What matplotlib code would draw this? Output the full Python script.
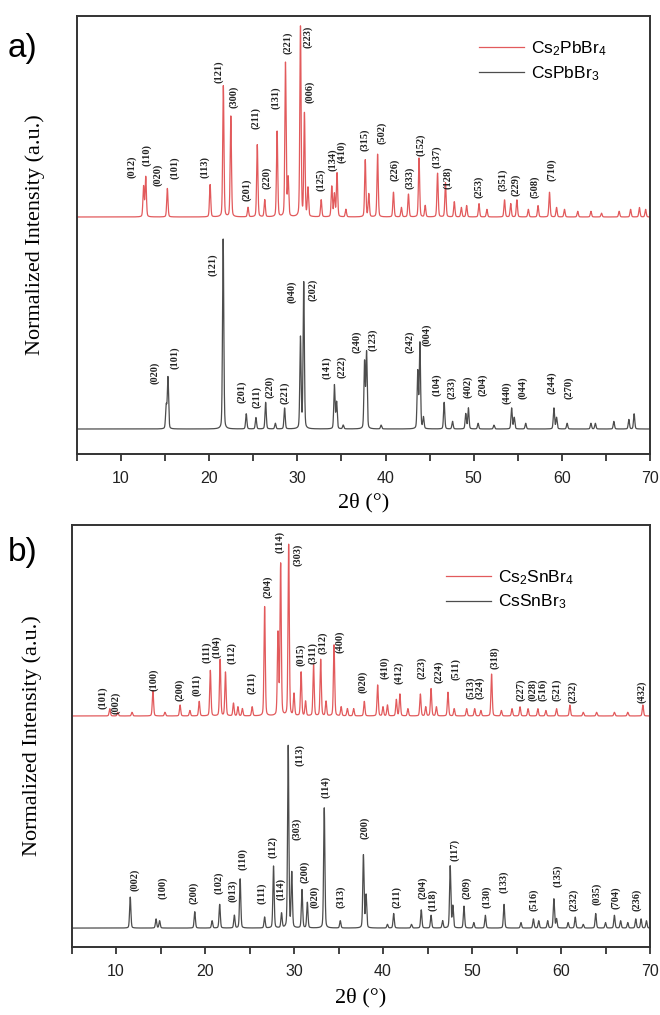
import numpy as np
import matplotlib.pyplot as plt

plt.rcParams['font.family'] = 'Liberation Sans'
plt.rcParams['mathtext.default'] = 'regular'

serif = {'family': 'Liberation Serif'}

red = '#e25a5c'
dark = '#4d4d4d'

# ---- a) Cs2PbBr4 (red) : peak 2theta / relative intensity
pb4_pos = [12.55, 12.8, 15.25, 20.1, 21.6, 22.45, 24.4, 25.45, 26.3, 27.7, 28.65, 28.95,
           30.35, 30.8, 31.2, 32.7, 33.9, 34.2, 34.5, 35.5, 37.7, 38.1, 39.1, 40.9, 41.8,
           42.6, 43.8, 44.5, 45.9, 46.8, 47.8, 48.6, 49.2, 50.6, 51.5, 53.5, 54.2, 54.9,
           56.2, 57.3, 58.6, 59.4, 60.3, 61.8, 63.3, 64.5, 66.5, 67.8, 68.8, 69.5]
pb4_int = [0.16, 0.21, 0.15, 0.17, 0.69, 0.53, 0.05, 0.38, 0.09, 0.45, 0.81, 0.20,
           1.00, 0.54, 0.15, 0.09, 0.16, 0.12, 0.23, 0.04, 0.30, 0.12, 0.33, 0.13, 0.05,
           0.12, 0.31, 0.06, 0.23, 0.18, 0.08, 0.05, 0.06, 0.07, 0.04, 0.09, 0.07, 0.09,
           0.04, 0.06, 0.13, 0.05, 0.04, 0.03, 0.03, 0.02, 0.03, 0.04, 0.05, 0.04]

# ---- a) CsPbBr3 (dark)
pb3_pos = [15.12, 15.32, 21.58, 24.2, 25.3, 26.4, 27.5, 28.55, 30.35, 30.72, 34.2, 34.45,
           35.2, 37.62, 37.85, 39.5, 43.65, 43.9, 44.3, 46.65, 47.6, 49.1, 49.4, 50.5, 52.3,
           54.3, 54.6, 55.9, 59.1, 59.4, 60.6, 63.3, 63.8, 65.9, 67.6, 68.2]
pb3_int = [0.12, 0.27, 1.00, 0.08, 0.06, 0.14, 0.03, 0.11, 0.48, 0.77, 0.23, 0.14,
           0.02, 0.35, 0.40, 0.02, 0.30, 0.45, 0.06, 0.14, 0.04, 0.08, 0.11, 0.03, 0.02,
           0.11, 0.06, 0.03, 0.11, 0.06, 0.03, 0.03, 0.03, 0.04, 0.05, 0.08]

# ---- b) Cs2SnBr4 (red)
sn4_pos = [9.3, 10.2, 11.8, 14.15, 15.5, 17.2, 18.3, 19.35, 20.6, 21.7, 22.3, 23.2, 23.7,
           24.2, 25.3, 26.7, 28.2, 28.5, 29.4, 30.0, 30.8, 31.3, 32.2, 33.0, 33.6, 34.5,
           35.3, 36.0, 36.7, 37.9, 39.4, 40.0, 40.5, 41.5, 41.9, 42.8, 44.2, 44.8, 45.4,
           46.0, 47.3, 48.0, 49.4, 50.3, 51.0, 52.2, 53.3, 54.5, 55.4, 56.3, 57.4, 58.3,
           59.5, 61.0, 62.5, 64.0, 66.0, 67.5, 69.2]
sn4_int = [0.04, 0.02, 0.02, 0.14, 0.02, 0.06, 0.03, 0.08, 0.25, 0.31, 0.24, 0.07, 0.05,
           0.04, 0.05, 0.60, 0.45, 0.83, 0.94, 0.12, 0.24, 0.08, 0.28, 0.31, 0.08, 0.39,
           0.05, 0.04, 0.04, 0.08, 0.17, 0.05, 0.06, 0.09, 0.12, 0.04, 0.12, 0.05, 0.15,
           0.05, 0.13, 0.04, 0.04, 0.04, 0.03, 0.23, 0.03, 0.04, 0.05, 0.04, 0.04, 0.03,
           0.04, 0.06, 0.02, 0.02, 0.02, 0.02, 0.06]

# ---- b) CsSnBr3 (dark)
sn3_pos = [11.6, 14.5, 14.9, 18.85, 20.8, 21.65, 23.3, 23.95, 26.7, 27.7, 28.6, 29.35,
           29.75, 30.9, 31.5, 33.4, 35.2, 37.8, 38.1, 40.5, 41.2, 43.2, 44.3, 45.4, 46.7,
           47.55, 47.85, 49.1, 50.2, 51.5, 53.6, 55.5, 56.9, 57.5, 58.5, 59.2, 59.5, 60.8,
           61.6, 62.5, 63.9, 65.0, 66.0, 66.7, 67.5, 68.4, 69.0, 69.6]
sn3_int = [0.17, 0.05, 0.04, 0.09, 0.04, 0.13, 0.07, 0.27, 0.06, 0.34, 0.08, 1.00,
           0.30, 0.21, 0.14, 0.66, 0.04, 0.40, 0.18, 0.02, 0.08, 0.02, 0.10, 0.07, 0.04,
           0.34, 0.12, 0.12, 0.03, 0.07, 0.13, 0.03, 0.05, 0.04, 0.04, 0.16, 0.05, 0.03,
           0.06, 0.02, 0.08, 0.03, 0.07, 0.04, 0.03, 0.05, 0.05, 0.04]

# hkl labels: text, 2theta, height
pb4_hkl = ['(012)', '(110)', '(020)', '(101)', '(113)', '(121)', '(300)', '(201)', '(211)', '(220)',
           '(131)', '(221)', '(223)', '(006)', '(125)', '(134)', '(410)', '(315)', '(502)', '(226)',
           '(333)', '(152)', '(137)', '(128)', '(253)', '(351)', '(229)', '(508)', '(710)']
pb4_hx = [11.24, 12.94, 14.19, 16.12, 19.52, 21.11, 22.81, 24.29, 25.31, 26.55,
          27.57, 28.94, 31.21, 31.43, 32.68, 34.04, 35.06, 37.67, 39.60, 41.07,
          42.78, 44.02, 45.84, 47.09, 50.60, 53.33, 54.80, 56.96, 58.89]
pb4_hy = [1.379, 1.442, 1.337, 1.374, 1.379, 1.879, 1.747, 1.258, 1.637, 1.321,
          1.742, 2.032, 2.063, 1.774, 1.311, 1.416, 1.458, 1.521, 1.558, 1.363,
          1.321, 1.495, 1.432, 1.321, 1.274, 1.311, 1.284, 1.274, 1.363]

pb3_hkl = ['(020)', '(101)', '(121)', '(201)', '(211)', '(220)', '(221)', '(040)', '(202)', '(141)',
           '(222)', '(240)', '(123)', '(242)', '(004)', '(104)', '(233)', '(402)', '(204)', '(440)',
           '(044)', '(244)', '(270)']
pb3_hx = [13.85, 16.12, 20.43, 23.72, 25.42, 26.89, 28.6, 29.39, 31.77, 33.36,
          35.06, 36.76, 38.58, 42.78, 44.70, 45.84, 47.54, 49.36, 51.06, 53.78,
          55.60, 58.89, 60.81]
pb3_hy = [0.295, 0.374, 0.863, 0.195, 0.168, 0.221, 0.189, 0.721, 0.732, 0.321,
          0.326, 0.458, 0.468, 0.458, 0.495, 0.232, 0.216, 0.221, 0.232, 0.189,
          0.216, 0.242, 0.216]

sn4_hkl = ['(101)', '(002)', '(100)', '(200)', '(011)', '(111)', '(104)', '(112)', '(211)', '(204)',
           '(114)', '(303)', '(015)', '(311)', '(312)', '(400)', '(020)', '(410)', '(412)', '(223)',
           '(224)', '(511)', '(513)', '(324)', '(318)', '(227)', '(028)', '(516)', '(521)', '(232)',
           '(432)']
sn4_hx = [8.54, 10.0, 14.27, 17.19, 19.10, 20.22, 21.35, 23.03, 25.28, 27.08,
          28.43, 30.45, 30.79, 32.13, 33.26, 35.17, 37.75, 40.22, 41.80, 44.38,
          46.29, 48.20, 49.89, 50.90, 52.58, 55.51, 56.85, 57.98, 59.55, 61.35,
          69.10]
sn4_hy = [1.264, 1.236, 1.363, 1.308, 1.335, 1.516, 1.544, 1.511, 1.346, 1.874,
          2.12, 2.049, 1.50, 1.511, 1.566, 1.571, 1.352, 1.429, 1.401, 1.429,
          1.407, 1.423, 1.319, 1.319, 1.484, 1.308, 1.308, 1.308, 1.308, 1.297,
          1.297]

sn3_hkl = ['(002)', '(100)', '(200)', '(102)', '(013)', '(110)', '(111)', '(112)', '(114)', '(113)',
           '(303)', '(200)', '(020)', '(114)', '(313)', '(200)', '(211)', '(204)', '(118)', '(117)',
           '(209)', '(130)', '(133)', '(516)', '(135)', '(232)', '(035)', '(704)', '(236)']
sn3_hx = [12.13, 15.28, 18.76, 21.57, 23.15, 24.27, 26.40, 27.64, 28.54, 30.67,
          30.34, 31.24, 32.36, 33.60, 35.28, 37.98, 41.57, 44.49, 45.62, 48.09,
          49.44, 51.69, 53.60, 56.97, 59.66, 61.46, 64.04, 66.18, 68.54]
sn3_hy = [0.264, 0.220, 0.192, 0.247, 0.203, 0.379, 0.192, 0.445, 0.214, 0.951,
          0.544, 0.308, 0.170, 0.775, 0.170, 0.549, 0.170, 0.220, 0.154, 0.429,
          0.220, 0.170, 0.253, 0.154, 0.286, 0.154, 0.187, 0.165, 0.154]


def pattern(tt, pos, inten, w=0.17):
    y = np.zeros_like(tt)
    for p, h in zip(pos, inten):
        u = (tt - p) / w
        y += h * (0.75 * np.exp(-4 * np.log(2) * u ** 2) + 0.25 / (1 + 4 * u ** 2))
    return y


tt = np.linspace(5, 70, 6501)

fig = plt.figure(figsize=(6.6, 10.15), dpi=100)
ax1 = fig.add_axes([77 / 660, 1 - 454 / 1015, 573 / 660, 438 / 1015])
ax2 = fig.add_axes([71.5 / 660, 1 - 947 / 1015, 578.5 / 660, 422 / 1015])

panels = [
    (ax1, pb4_pos, pb4_int, 1.116, pb3_pos, pb3_int, 'Cs$_2$PbBr$_4$', 'CsPbBr$_3$',
     pb4_hkl, pb4_hx, pb4_hy, pb3_hkl, pb3_hx, pb3_hy, (-0.1316, 2.174), (0.686, 0.966)),
    (ax2, sn4_pos, sn4_int, 1.165, sn3_pos, sn3_int, 'Cs$_2$SnBr$_4$', 'CsSnBr$_3$',
     sn4_hkl, sn4_hx, sn4_hy, sn3_hkl, sn3_hx, sn3_hy, (-0.104, 2.214), (0.632, 0.919)),
]

for (ax, rp, ri, off, bp, bi, rname, bname, rh, rx, ry, bh, bx, by, ylim, lpos) in panels:
    l1, = ax.plot(tt, pattern(tt, rp, ri) + off, color=red, lw=0.9, label=rname)
    l2, = ax.plot(tt, pattern(tt, bp, bi), color=dark, lw=0.9, label=bname)
    for t, x, y in zip(rh, rx, ry):
        ax.text(x, y, t, rotation=90, ha='center', va='center', fontsize=7.5,
                fontweight='bold', color='#222222', **serif)
    for t, x, y in zip(bh, bx, by):
        ax.text(x, y, t, rotation=90, ha='center', va='center', fontsize=7.5,
                fontweight='bold', color='#222222', **serif)
    ax.set_xlim(5, 70)
    ax.set_ylim(*ylim)
    ax.set_yticks([])
    ax.set_xticks(np.arange(10, 71, 10))
    ax.set_xticks(np.arange(5, 71, 10), minor=True)
    ax.tick_params(axis='x', which='both', direction='out', length=5, width=1.2,
                   labelsize=11.5, pad=7, colors='#222222')
    for s in ax.spines.values():
        s.set_linewidth(1.4)
        s.set_color('#333333')
    ax.set_xlabel('2θ (°)', fontsize=16, **serif)
    ax.set_ylabel('Normalized Intensity (a.u.)', fontsize=16, **serif)
    ax.legend(handles=[l1, l2], loc='upper left', bbox_to_anchor=lpos, frameon=False,
              fontsize=12.5, handlelength=2.6, handletextpad=0.4, borderpad=0,
              labelspacing=0.35)

ax1.yaxis.set_label_coords(-0.056, 0.5)
ax2.yaxis.set_label_coords(-0.051, 0.5)
ax1.xaxis.set_label_coords(0.5, -0.088)
ax2.xaxis.set_label_coords(0.5, -0.098)

fig.text(8 / 660, 1 - 48 / 1015, 'a)', fontsize=24, va='center', ha='left')
fig.text(8 / 660, 1 - 552 / 1015, 'b)', fontsize=24, va='center', ha='left')

plt.savefig('out.png', dpi=100)
